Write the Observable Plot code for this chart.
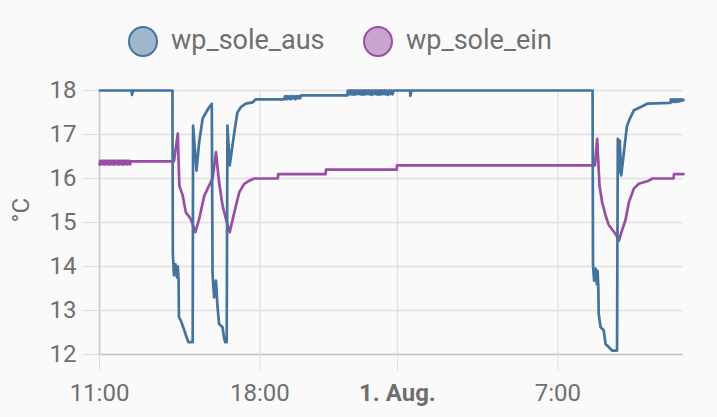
<!DOCTYPE html>
<html>
<head>
<meta charset="utf-8">
<script src="https://cdn.jsdelivr.net/npm/d3@7"></script>
<script src="https://cdn.jsdelivr.net/npm/@observablehq/plot@0.6"></script>
<style>
  html, body { margin: 0; padding: 0; background: #fafafa; }
  #wrap { width: 717px; height: 417px; position: relative; overflow: hidden; background: #fafafa; }
  #legend { position: relative; height: 70px; font-family: Roboto, sans-serif; }
  .dot { position: absolute; box-sizing: border-box; width: 30px; height: 31px; border-radius: 50%; border: 2px solid; top: 26px; }
  .lab { position: absolute; top: 27px; font-size: 27px; line-height: 27px; color: #6f6f6f; white-space: nowrap; }
  #chart svg { display: block; }
</style>
</head>
<body>
<div id="wrap">
  <div id="legend">
    <span class="dot" style="left:128px; border-color:#44739e; background:rgba(68,115,158,0.5);"></span>
    <span class="lab" style="left:171px;">wp_sole_aus</span>
    <span class="dot" style="left:363px; border-color:#984ea3; background:rgba(152,78,163,0.5);"></span>
    <span class="lab" style="left:406px;">wp_sole_ein</span>
  </div>
  <div id="chart"></div>
</div>
<script>
// ---- data ----
const seriesNames = ["wp_sole_aus", "wp_sole_ein"];
const seriesColors = ["#44739e", "#984ea3"];

const xStart = "07-31 11:00";
const xEnd = "08-01 12:29";
const xTickTimes = ["07-31 11:00", "07-31 18:00", "08-01 00:00", "08-01 07:00"];
const xTickLabels = ["11:00", "18:00", "1. Aug.", "7:00"];
const yTicks = [12, 13, 14, 15, 16, 17, 18];
const yUnit = "°C";

// wp_sole_aus
const ausTime = [
  "07-31 11:00","07-31 12:24","07-31 12:25","07-31 12:28","07-31 14:11","07-31 14:12","07-31 14:15","07-31 14:19",
  "07-31 14:23","07-31 14:25","07-31 14:27","07-31 14:28","07-31 14:33","07-31 14:42","07-31 14:48","07-31 14:53",
  "07-31 15:04","07-31 15:05","07-31 15:14","07-31 15:21","07-31 15:30","07-31 15:39","07-31 15:47","07-31 15:54",
  "07-31 15:56","07-31 16:00","07-31 16:05","07-31 16:09","07-31 16:13","07-31 16:22","07-31 16:26","07-31 16:29",
  "07-31 16:33","07-31 16:35","07-31 16:41","07-31 16:53","07-31 17:01","07-31 17:10","07-31 17:23","07-31 17:41",
  "07-31 17:49",
  "07-31 19:03","07-31 19:06","07-31 19:09","07-31 19:12","07-31 19:15","07-31 19:18","07-31 19:21","07-31 19:24",
  "07-31 19:27","07-31 19:30","07-31 19:33","07-31 19:36","07-31 19:39","07-31 19:42","07-31 19:45","07-31 19:47",
  "07-31 19:48","07-31 21:49",
  "07-31 21:50","07-31 21:53","07-31 21:56","07-31 21:59","07-31 22:02","07-31 22:05","07-31 22:08","07-31 22:11",
  "07-31 22:14","07-31 22:17","07-31 22:20","07-31 22:23","07-31 22:26","07-31 22:29","07-31 22:32","07-31 22:35",
  "07-31 22:38","07-31 22:41","07-31 22:44","07-31 22:47","07-31 22:50","07-31 22:53","07-31 22:56","07-31 22:59",
  "07-31 23:02","07-31 23:05","07-31 23:08","07-31 23:11","07-31 23:14","07-31 23:17","07-31 23:20","07-31 23:23",
  "07-31 23:26","07-31 23:29","07-31 23:32","07-31 23:35","07-31 23:38","07-31 23:41","07-31 23:44","07-31 23:47",
  "07-31 23:50",
  "08-01 00:33","08-01 00:34","08-01 00:37","08-01 08:31",
  "08-01 08:32","08-01 08:35","08-01 08:39","08-01 08:42","08-01 08:44","08-01 08:46","08-01 08:47","08-01 08:52",
  "08-01 09:00","08-01 09:05","08-01 09:13","08-01 09:22","08-01 09:35","08-01 09:37","08-01 09:39","08-01 09:42",
  "08-01 09:46","08-01 09:53","08-01 10:01","08-01 10:10","08-01 10:19","08-01 10:36","08-01 10:54","08-01 11:55",
  "08-01 11:56","08-01 11:59","08-01 12:02","08-01 12:05","08-01 12:08","08-01 12:11","08-01 12:14","08-01 12:17",
  "08-01 12:20","08-01 12:23","08-01 12:26","08-01 12:29"
];
const ausValue = [
  18, 18, 17.9, 18, 18, 14.3, 13.8, 14.05,
  13.75, 14.0, 13.7, 12.85, 12.77, 12.55, 12.39, 12.28,
  12.28, 17.2, 16.18, 16.83, 17.36, 17.5, 17.62, 17.7,
  13.83, 13.3, 13.68, 13.08, 12.7, 12.62, 12.39, 12.28,
  12.28, 17.2, 16.3, 17.05, 17.5, 17.62, 17.7, 17.73,
  17.8,
  17.8, 17.87, 17.8, 17.87, 17.81, 17.87, 17.8, 17.87,
  17.82, 17.87, 17.8, 17.87, 17.82, 17.87, 17.82, 17.87,
  17.89, 17.89,
  18, 17.91, 18, 17.91, 18, 17.9, 18, 17.91,
  18, 17.92, 18, 17.91, 18, 17.9, 18, 17.91,
  18, 17.92, 18, 17.91, 18, 17.9, 18, 17.92,
  18, 17.91, 18, 17.9, 18, 17.91, 18, 17.92,
  18, 17.91, 18, 17.9, 18, 17.92, 18, 17.91,
  18,
  18, 17.88, 18, 18,
  14.06, 13.68, 13.95, 13.6, 13.9, 13.53, 12.92, 12.62,
  12.55, 12.24, 12.17, 12.09, 12.09, 16.9, 16.14, 16.86,
  16.07, 16.6, 17.2, 17.39, 17.55, 17.62, 17.7, 17.72,
  17.8, 17.74, 17.8, 17.74, 17.8, 17.74, 17.8, 17.75,
  17.8, 17.76, 17.8, 17.78
];

// wp_sole_ein
const einTime = [
  "07-31 11:00","07-31 11:02","07-31 11:04","07-31 11:06","07-31 11:08","07-31 11:10","07-31 11:12","07-31 11:14",
  "07-31 11:16","07-31 11:18","07-31 11:20","07-31 11:22","07-31 11:24","07-31 11:26","07-31 11:28","07-31 11:30",
  "07-31 11:32","07-31 11:34","07-31 11:36","07-31 11:38","07-31 11:40","07-31 11:42","07-31 11:44","07-31 11:46",
  "07-31 11:48","07-31 11:50","07-31 11:52","07-31 11:54","07-31 11:56","07-31 11:58","07-31 12:00","07-31 12:02",
  "07-31 12:04","07-31 12:06","07-31 12:08","07-31 12:10","07-31 12:12","07-31 12:14","07-31 12:16","07-31 12:18",
  "07-31 12:20",
  "07-31 12:22","07-31 14:15","07-31 14:25","07-31 14:29","07-31 14:38",
  "07-31 14:46","07-31 14:59","07-31 15:11","07-31 15:21","07-31 15:34","07-31 15:47","07-31 15:56","07-31 16:05",
  "07-31 16:13","07-31 16:22","07-31 16:31","07-31 16:41","07-31 16:53","07-31 17:06","07-31 17:19","07-31 17:32",
  "07-31 17:45","07-31 18:47","07-31 18:48","07-31 20:52","07-31 20:53","07-31 23:58","07-31 23:59","08-01 08:37",
  "08-01 08:43","08-01 08:49","08-01 08:56","08-01 09:05","08-01 09:13","08-01 09:31","08-01 09:40","08-01 09:48",
  "08-01 09:57","08-01 10:06","08-01 10:19","08-01 10:32","08-01 10:58","08-01 11:08","08-01 12:03","08-01 12:04",
  "08-01 12:29"
];
const einValue = [
  16.32, 16.4, 16.32, 16.4, 16.33, 16.4, 16.32, 16.4,
  16.32, 16.4, 16.33, 16.4, 16.32, 16.4, 16.32, 16.4,
  16.33, 16.4, 16.32, 16.4, 16.32, 16.4, 16.33, 16.4,
  16.32, 16.4, 16.32, 16.4, 16.33, 16.4, 16.32, 16.4,
  16.32, 16.4, 16.33, 16.4, 16.32, 16.4, 16.33, 16.4,
  16.32,
  16.39, 16.39, 17.02, 15.84, 15.61,
  15.23, 15.08, 14.78, 15.08, 15.6, 15.84, 16.0, 16.6,
  15.92, 15.39, 15.08, 14.78, 15.23, 15.69, 15.88, 15.95,
  16.0, 16.0, 16.1, 16.1, 16.2, 16.2, 16.3, 16.3,
  16.9, 15.84, 15.46, 15.16, 14.95, 14.74, 14.59, 14.82,
  15.05, 15.46, 15.77, 15.88, 15.95, 16.0, 16.0, 16.1,
  16.1
];

// ---- build ----
function parseTime(s) {
  const [md, hm] = s.split(" ");
  const [mo, d] = md.split("-").map(Number);
  const [h, mi] = hm.split(":").map(Number);
  return new Date(2023, mo - 1, d, h, mi);
}
const aus = ausTime.map((t, i) => ({t: parseTime(t), v: ausValue[i]}));
const ein = einTime.map((t, i) => ({t: parseTime(t), v: einValue[i]}));
const xTicks = xTickTimes.map(parseTime);
const labelMap = new Map(xTicks.map((d, i) => [+d, xTickLabels[i]]));
const boldTicks = xTicks.filter((d, i) => xTickLabels[i].includes("Aug"));
const normalTicks = xTicks.filter((d, i) => !xTickLabels[i].includes("Aug"));
const x0 = parseTime(xStart), x1 = parseTime(xEnd);
const yMin = d3.min(yTicks), yMax = d3.max(yTicks);

const textColor = "#6f6f6f";
const tickFont = 24;
const chart = Plot.plot({
  width: 717,
  height: 347,
  marginTop: 20,
  marginRight: 34,
  marginBottom: 63,
  marginLeft: 99,
  style: {background: "#fafafa", fontFamily: "Roboto, sans-serif", fontSize: "24px", color: textColor, overflow: "visible"},
  x: {type: "time", domain: [x0, x1]},
  y: {domain: [yMin, yMax]},
  marks: [
    Plot.gridY(yTicks, {stroke: "#e0e0e0", strokeOpacity: 1, strokeWidth: 1.3}),
    Plot.gridX(xTicks, {stroke: "#e0e0e0", strokeOpacity: 1, strokeWidth: 1.3}),
    Plot.ruleX([x0], {stroke: "#cacaca", strokeWidth: 1.6}),
    Plot.ruleY([yMin], {stroke: "#c4c4c4", strokeWidth: 1.6}),
    Plot.line(ein, {x: "t", y: "v", stroke: seriesColors[1], strokeWidth: 2.7}),
    Plot.line(aus, {x: "t", y: "v", stroke: seriesColors[0], strokeWidth: 2.7}),
    Plot.axisY(yTicks, {tickSize: 16, tickPadding: 7, stroke: "#dcdcdc", fill: textColor, fontSize: tickFont, label: null, tickFormat: d => String(d)}),
    Plot.axisX(normalTicks, {tickSize: 16, tickPadding: 13, stroke: "#dcdcdc", fill: textColor, fontSize: tickFont, label: null, tickFormat: d => labelMap.get(+d)}),
    Plot.axisX(boldTicks, {tickSize: 16, tickPadding: 13, stroke: "#dcdcdc", fill: textColor, fontSize: tickFont, fontWeight: "bold", label: null, tickFormat: d => labelMap.get(+d)}),
    Plot.text([yUnit], {frameAnchor: "left", dx: -78, rotate: -90, fill: textColor, fontSize: 24})
  ]
});
document.getElementById("chart").appendChild(chart);
</script>
</body>
</html>
